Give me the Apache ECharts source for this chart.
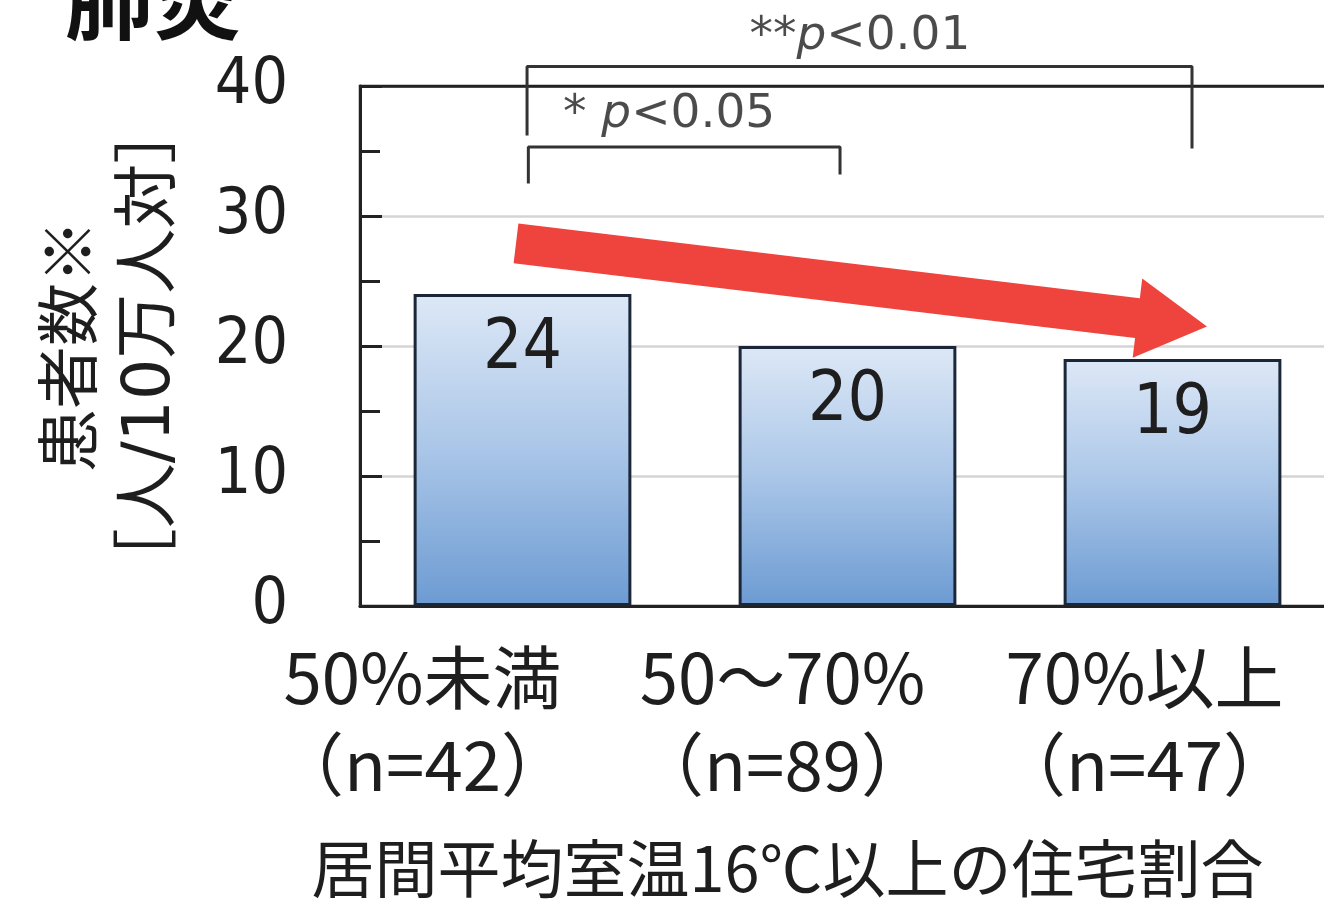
<!DOCTYPE html>
<html>
<head>
<meta charset="utf-8">
<script src="https://cdn.jsdelivr.net/npm/echarts@6/dist/echarts.min.js"></script>
<style>html,body{margin:0;padding:0;background:#fff;}#c{width:1324px;height:905px;}</style>
</head>
<body>
<div id="c"></div>
<script>
// ---- data ----
const titleText = '肺炎';
const categories = ['50%未満\n（n=42）', '50～70%\n（n=89）', '70%以上\n（n=47）'];
const labelShift = [-100, -65, -28];
const values = [24, 20, 19];
const yTicks = [0, 10, 20, 30, 40];
const yTitleLine1 = '患者数※';
const yTitleLine2 = '［人/10万人対］';
const xTitle = '居間平均室温16℃以上の住宅割合';
// significance brackets in (category-position, value) units
const bracketOuter = [[0.514, 36.2], [0.514, 41.5], [2.56, 41.5], [2.56, 35.2]];
const bracketInner = [[0.518, 32.5], [0.518, 35.3], [1.477, 35.3], [1.477, 33.2]];
const sigLabels = [
  {pos: [1.538, 43.8], stars: '**', text: '<0.01'},
  {pos: [0.951, 37.8], stars: '* ', text: '<0.05'}
];
// trend arrow: tail (x,y) -> tip (x,y)
const trendArrow = [[0.48, 27.9, 2.606, 21.5]];

const numFont = "'DejaVu Sans Condensed','DejaVu Sans',sans-serif";
const jpFont = "'Noto Sans CJK JP','DejaVu Sans',sans-serif";
const mixFont = "'DejaVu Sans','Noto Sans CJK JP',sans-serif";

const chart = echarts.init(document.getElementById('c'), null, {renderer: 'canvas'});

const catItems = categories.map((c, i) => ({
  value: c,
  textStyle: {padding: labelShift[i] < 0 ? [0, -2 * labelShift[i], 0, 0] : [0, 0, 0, 2 * labelShift[i]]}
}));

const option = {
  backgroundColor: '#fff',
  animation: false,
  title: {
    text: titleText, left: 60, top: -50,
    textStyle: {fontSize: 88, fontWeight: 'bold', fontFamily: jpFont, color: '#111'}
  },
  grid: {left: 360, right: -11, top: 86, bottom: 299, show: true, outerBoundsMode: 'none', containLabel: false,
         borderColor: '#222', borderWidth: 2.5, backgroundColor: '#fff'},
  xAxis: [{
    type: 'category', data: catItems,
    axisLine: {lineStyle: {color: '#222', width: 3}},
    axisTick: {show: false},
    axisLabel: {fontSize: 69, lineHeight: 87, margin: 28, color: '#1e1e1e', fontFamily: jpFont, interval: 0},
    name: xTitle, nameLocation: 'middle', nameGap: 227,
    nameTextStyle: {fontSize: 63, lineHeight: 70, color: '#1e1e1e', fontFamily: jpFont, padding: [0, 120, 0, 0]}
  }, {
    type: 'value', min: 0, max: 3, show: false
  }],
  yAxis: {
    type: 'value', min: yTicks[0], max: yTicks[yTicks.length - 1], interval: 10,
    axisLine: {show: true, lineStyle: {color: '#222', width: 3}},
    axisTick: {show: true, inside: true, length: 22, lineStyle: {color: '#222', width: 3}},
    minorTick: {show: true, splitNumber: 2, length: 20, lineStyle: {color: '#222', width: 3}},
    splitLine: {show: true, lineStyle: {color: ['#222', '#d4d4d4', '#d4d4d4', '#d4d4d4', '#222'], width: 2.5}},
    axisLabel: {margin: 72, fontSize: 64, color: '#1e1e1e', fontFamily: numFont, padding: [0, 0, 16, 0]},
    name: '{a|' + yTitleLine1 + '}\n{b|' + yTitleLine2 + '}', nameLocation: 'middle', nameGap: 165,
    nameTextStyle: {
      lineHeight: 85, color: '#1e1e1e',
      rich: {
        a: {fontSize: 63, lineHeight: 85, fontFamily: jpFont, color: '#1e1e1e'},
        b: {fontSize: 65, lineHeight: 85, fontFamily: mixFont, color: '#1e1e1e'}
      }
    }
  },
  series: [
    {
      type: 'bar', data: values, barCategoryGap: '33%',
      itemStyle: {
        color: new echarts.graphic.LinearGradient(0, 0, 0, 1, [
          {offset: 0, color: '#DDE8F6'},
          {offset: 0.5, color: '#AAC6E8'},
          {offset: 1, color: '#6C9BD2'}
        ]),
        borderColor: '#1B2738', borderWidth: 3
      },
      label: {show: true, position: 'insideTop', distance: 22, fontSize: 69,
              fontFamily: numFont, color: '#1e1e1e'}
    },
    {
      type: 'line', xAxisIndex: 1, data: bracketOuter, symbol: 'none', clip: false,
      lineStyle: {color: '#333', width: 3}, z: 5
    },
    {
      type: 'line', xAxisIndex: 1, data: bracketInner, symbol: 'none', clip: false,
      lineStyle: {color: '#333', width: 3}, z: 5
    },
    {
      type: 'scatter', xAxisIndex: 1, symbolSize: 0, clip: false, z: 6,
      data: sigLabels.map(s => ({value: s.pos, stars: s.stars, text: s.text})),
      label: {
        show: true, position: 'inside',
        formatter: p => '{a|' + p.data.stars + '}{i|p}{a|' + p.data.text + '}',
        rich: {
          a: {fontSize: 47, fontFamily: "'DejaVu Sans',sans-serif", color: '#1e1e1e'},
          i: {fontSize: 47, fontFamily: "'DejaVu Sans',sans-serif", fontStyle: 'italic', color: '#1e1e1e'}
        }
      }
    },
    {
      type: 'custom', xAxisIndex: 1, clip: false, z: 10,
      data: trendArrow,
      renderItem: function (params, api) {
        const t = api.coord([api.value(0), api.value(1)]);
        const p = api.coord([api.value(2), api.value(3)]);
        const dx = p[0] - t[0], dy = p[1] - t[1];
        const len = Math.sqrt(dx * dx + dy * dy);
        const d = [dx / len, dy / len];
        const n = [-d[1], d[0]];
        const w = 20, h = 40, L = 70;
        const b = [p[0] - d[0] * L, p[1] - d[1] * L];
        const pts = [
          [t[0] + n[0] * w, t[1] + n[1] * w],
          [b[0] + n[0] * w, b[1] + n[1] * w],
          [b[0] + n[0] * h, b[1] + n[1] * h],
          p,
          [b[0] - n[0] * h, b[1] - n[1] * h],
          [b[0] - n[0] * w, b[1] - n[1] * w],
          [t[0] - n[0] * w, t[1] - n[1] * w]
        ];
        return {type: 'polygon', shape: {points: pts}, style: {fill: '#EE443D'}};
      }
    }
  ]
};
chart.setOption(option);
</script>
</body>
</html>
